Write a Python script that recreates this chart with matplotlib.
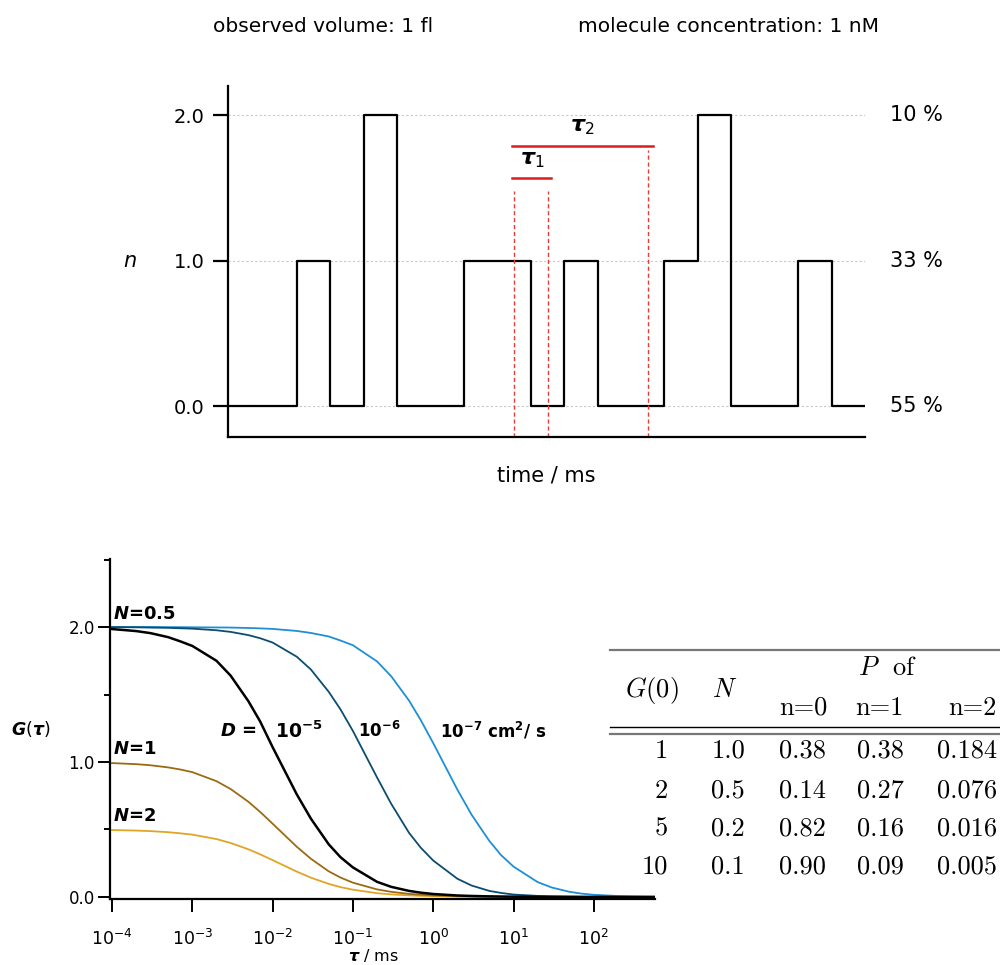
import matplotlib
matplotlib.use('Agg')
import matplotlib.pyplot as plt
from matplotlib.lines import Line2D

plt.rcParams['font.family'] = ['DejaVu Sans']
plt.rcParams['mathtext.fontset'] = 'custom'
plt.rcParams['mathtext.rm'] = 'DejaVu Sans'
plt.rcParams['mathtext.it'] = 'DejaVu Sans:italic:bold'
plt.rcParams['mathtext.bf'] = 'DejaVu Sans:bold'

# --- top panel: molecules in the observed volume vs time ---
step_times = [0, 2, 3, 4, 5, 7, 9, 10, 11, 13, 14, 15, 17, 18, 19]
step_counts = [0, 1, 0, 2, 0, 1, 0, 1, 0, 1, 2, 0, 1, 0, 0]
count_levels = [0, 1, 2]
count_share = ['55 %', '33 %', '10 %']
tau_start = 8.5
tau1_end = 9.5
tau2_end = 12.5

# --- bottom panel: autocorrelation curves ---
tau_ms = [1e-4, 2e-4, 3e-4, 5e-4, 7e-4,
          1e-3, 2e-3, 3e-3, 5e-3, 7e-3,
          1e-2, 2e-2, 3e-2, 5e-2, 7e-2,
          1e-1, 2e-1, 3e-1, 5e-1, 7e-1,
          1, 2, 3, 5, 7,
          10, 20, 30, 50, 70,
          100, 200, 300, 500, 700, 1000]
g_d5 = [1.985, 1.97, 1.955, 1.925, 1.895,
        1.86, 1.75, 1.64, 1.45, 1.30,
        1.11, 0.76, 0.58, 0.39, 0.295,
        0.219, 0.112, 0.075, 0.045, 0.032,
        0.022, 0.011, 0.0075, 0.0045, 0.0032,
        0.0022, 0.0011, 0.0007, 0.0004, 0.0003,
        0.0002, 0.0001, 0.0001, 0.0, 0.0, 0.0]
g_d6 = [1.999, 1.998, 1.996, 1.994, 1.991,
        1.988, 1.976, 1.964, 1.94, 1.917,
        1.885, 1.78, 1.685, 1.52, 1.39,
        1.23, 0.885, 0.69, 0.475, 0.365,
        0.27, 0.135, 0.085, 0.045, 0.03,
        0.018, 0.008, 0.005, 0.003, 0.002,
        0.0015, 0.0008, 0.0005, 0.0003, 0.0002, 0.0001]
g_d7 = [2.0, 2.0, 2.0, 1.999, 1.999,
        1.998, 1.997, 1.996, 1.993, 1.99,
        1.986, 1.971, 1.956, 1.93, 1.90,
        1.865, 1.745, 1.635, 1.455, 1.31,
        1.14, 0.795, 0.61, 0.415, 0.31,
        0.225, 0.11, 0.07, 0.038, 0.025,
        0.016, 0.007, 0.005, 0.003, 0.002, 0.0015]
g_n1 = [0.992, 0.984, 0.976, 0.96, 0.945,
        0.925, 0.858, 0.80, 0.705, 0.63,
        0.543, 0.372, 0.283, 0.19, 0.144,
        0.106, 0.056, 0.038, 0.023, 0.017,
        0.012, 0.006, 0.004, 0.0024, 0.0017,
        0.0012, 0.0006, 0.0004, 0.0002, 0.0002,
        0.0001, 0.0001, 0.0, 0.0, 0.0, 0.0]
g_n2 = [0.496, 0.492, 0.488, 0.48, 0.472,
        0.462, 0.429, 0.40, 0.353, 0.316,
        0.273, 0.188, 0.143, 0.097, 0.073,
        0.054, 0.028, 0.019, 0.012, 0.0084,
        0.006, 0.003, 0.002, 0.0012, 0.0009,
        0.0006, 0.0003, 0.0002, 0.0001, 0.0001,
        0.0, 0.0, 0.0, 0.0, 0.0, 0.0]
xtick_pos = [1e-4, 1e-3, 1e-2, 1e-1, 1e0, 1e1, 1e2]
xtick_labels = [r'$10^{-4}$', r'$10^{-3}$', r'$10^{-2}$', r'$10^{-1}$',
                r'$10^{0}$', r'$10^{1}$', r'$10^{2}$']

# --- table ---
tab_g0 = ['1', '2', '5', '10']
tab_n = ['1.0', '0.5', '0.2', '0.1']
tab_p0 = ['0.38', '0.14', '0.82', '0.90']
tab_p1 = ['0.38', '0.27', '0.16', '0.09']
tab_p2 = ['0.184', '0.076', '0.016', '0.005']

W, H = 1000, 965
fig = plt.figure(figsize=(10, 9.65), dpi=100)


def fx(px):
    return px / W


def fy(py):
    return 1 - py / H


# header
fig.text(fx(213), fy(27), 'observed volume: 1 fl', fontsize=14.5, va='center')
fig.text(fx(578), fy(27), 'molecule concentration: 1 nM', fontsize=14.5, va='center')

# top axes
ax1 = fig.add_axes([fx(228), fy(437), fx(865 - 228), (437 - 86) / H])
ax1.step(step_times, step_counts, where='post', color='black', lw=1.6)
ax1.set_xlim(-0.06, 19)
ax1.set_ylim(-0.213, 2.2)
ax1.set_yticks(count_levels)
ax1.set_yticklabels(['0.0', '1.0', '2.0'], fontsize=14)
ax1.set_xticks([])
ax1.yaxis.grid(True, ls=(0, (2, 2)), color='#c8c8c8', lw=0.8)
ax1.set_axisbelow(True)
for s in ['top', 'right']:
    ax1.spines[s].set_visible(False)
for s in ['left', 'bottom']:
    ax1.spines[s].set_linewidth(1.6)
ax1.tick_params(axis='y', length=11, width=1.6, pad=6)
ax1.set_ylabel('n', fontsize=15, style='italic', rotation=0, va='center')
ax1.yaxis.set_label_coords(-0.154, 0.5)
ax1.set_xlabel('time / ms', fontsize=15)
ax1.xaxis.set_label_coords(0.5, -0.08)

for lev, lab in zip(count_levels, count_share):
    ax1.text(19.75, lev, lab, fontsize=15, va='center', ha='left', clip_on=False)

red = '#d81e1e'
ax1.vlines([tau_start, tau1_end], -0.213, 1.48, colors='#e53b3b', lw=1.0,
           linestyles=(0, (3, 2)))
ax1.vlines([tau2_end], -0.213, 1.76, colors='#e53b3b', lw=1.0,
           linestyles=(0, (3, 2)))
ax1.plot([tau_start - 0.05, tau1_end + 0.1], [1.57, 1.57], color=red, lw=1.8)
ax1.plot([tau_start - 0.05, tau2_end + 0.15], [1.79, 1.79], color=red, lw=1.8)
ax1.text((tau_start + tau1_end) / 2 + 0.05, 1.69, r'$\tau_1$', fontsize=16,
         ha='center', va='center')
ax1.text((tau_start + tau2_end) / 2 + 0.05, 1.92, r'$\tau_2$', fontsize=16,
         ha='center', va='center')

# bottom axes
ax2 = fig.add_axes([fx(110), fy(899), fx(655 - 110), (899 - 559) / H])
ax2.set_xscale('log')
ax2.plot(tau_ms, g_n2, color='#e0a526', lw=1.3)
ax2.plot(tau_ms, g_n1, color='#9c6a12', lw=1.3)
ax2.plot(tau_ms, g_d7, color='#1e8fd5', lw=1.3)
ax2.plot(tau_ms, g_d6, color='#0b4d71', lw=1.3)
ax2.plot(tau_ms, g_d5, color='black', lw=1.8)
ax2.set_xlim(10 ** -4.025, 578)
ax2.set_ylim(-0.015, 2.504)
ax2.set_yticks([0, 1, 2])
ax2.set_yticklabels(['0.0', '1.0', '2.0'], fontsize=12)
ax2.set_yticks([0.5, 1.5, 2.5], minor=True)
ax2.set_xticks(xtick_pos)
ax2.set_xticklabels(xtick_labels, fontsize=12.5)
ax2.xaxis.set_minor_locator(matplotlib.ticker.NullLocator())
for s in ['top', 'right']:
    ax2.spines[s].set_visible(False)
for s in ['left', 'bottom']:
    ax2.spines[s].set_linewidth(1.6)
ax2.tick_params(axis='y', which='major', length=9, width=1.4, pad=2)
ax2.tick_params(axis='y', which='minor', length=4.5, width=1.4)
ax2.tick_params(axis='x', which='major', length=9.5, width=1.4, pad=12)
ax2.set_ylabel(r'$G(\tau)$', fontsize=12.5, rotation=0, va='center')
ax2.yaxis.set_label_coords(-0.145, 0.5)
fig.text(fx(373), fy(955), r'$\tau$ / ms', fontsize=11.5, ha='center', va='center')

ax2.text(1.03e-4, 2.03, r'$N$=0.5', fontsize=13, fontweight='bold', va='bottom')
ax2.text(1.03e-4, 1.03, r'$N$=1', fontsize=13, fontweight='bold', va='bottom')
ax2.text(1.03e-4, 0.53, r'$N$=2', fontsize=13, fontweight='bold', va='bottom')
ax2.text(2.2e-3, 1.23, r'$D$ =', fontsize=13, fontweight='bold', va='center')
ax2.text(1.07e-2, 1.23, r'$\mathbf{10^{-5}}$', fontsize=13.5, va='center')
ax2.text(1.16e-1, 1.23, r'$\mathbf{10^{-6}}$', fontsize=12, va='center')
ax2.text(1.22, 1.23, r'$\mathbf{10^{-7}}$ cm$^{\mathbf{2}}$/ s', fontsize=12,
         fontweight='bold', va='center')

# table
fs = 19
fig.add_artist(Line2D([fx(610), 1], [fy(650), fy(650)], color='#777777', lw=1.6))
fig.add_artist(Line2D([fx(610), 1], [fy(727), fy(727)], color='black', lw=1.0))
fig.add_artist(Line2D([fx(610), 1], [fy(734), fy(734)], color='#777777', lw=1.6))
fig.text(fx(652), fy(690), r'$G(0)$', fontsize=fs, math_fontfamily='cm',
         ha='center', va='center')
fig.text(fx(725), fy(690), r'$N$', fontsize=fs, math_fontfamily='cm',
         ha='center', va='center')
fig.text(fx(888), fy(668), r'$P$  of', fontsize=fs, fontfamily='cmr10',
         math_fontfamily='cm', ha='center', va='center')
for right, lab in zip([827, 904, 997], ['n=0', 'n=1', 'n=2']):
    fig.text(fx(right), fy(708), lab, fontsize=fs, fontfamily='cmr10',
             ha='right', va='center')

row_y = [751, 791, 829, 867]
col_right = [668, 745, 826, 904, 997]
for i, y in enumerate(row_y):
    row = [tab_g0[i], tab_n[i], tab_p0[i], tab_p1[i], tab_p2[i]]
    for right, val in zip(col_right, row):
        fig.text(fx(right), fy(y), val, fontsize=fs, fontfamily='cmr10',
                 ha='right', va='center')

plt.savefig('out.png', dpi=100)
plt.close(fig)
